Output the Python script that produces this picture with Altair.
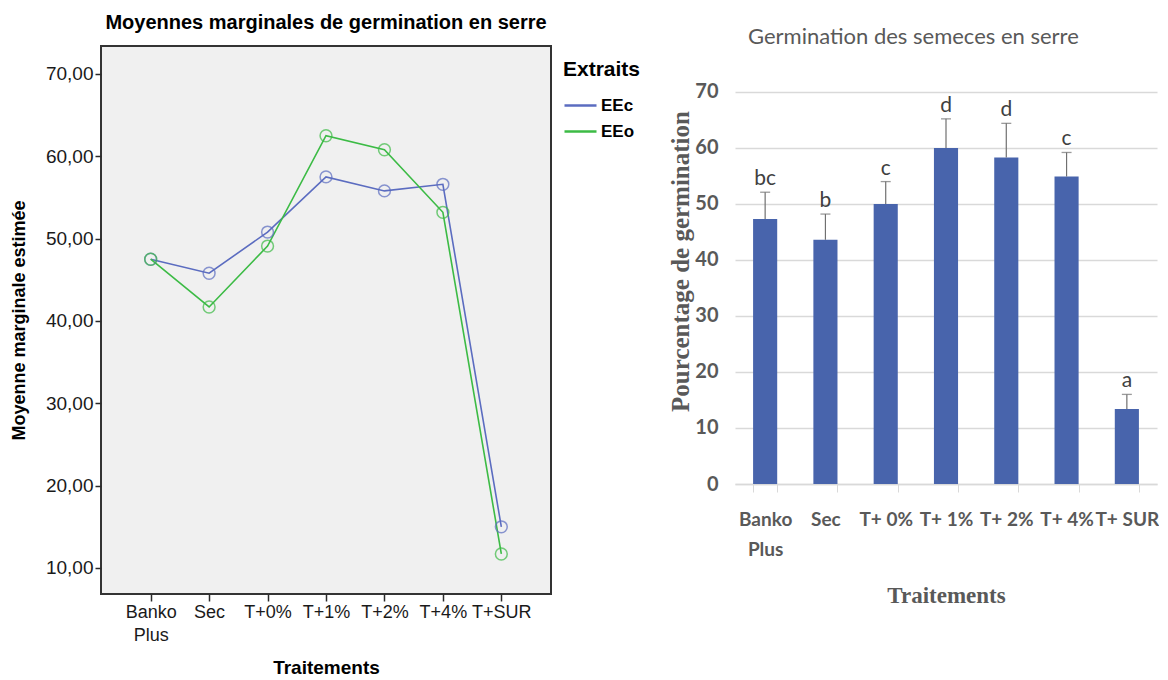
import altair as alt
import pandas as pd

# ---------------- data ----------------
categories = ["Banko Plus", "Sec", "T+0%", "T+1%", "T+2%", "T+4%", "T+SUR"]
eec_values = [47.5, 45.8, 50.8, 57.5, 55.8, 56.6, 15.0]
eeo_values = [47.5, 41.7, 49.1, 62.5, 60.8, 53.2, 11.7]
extraits = ["EEc", "EEo"]
extrait_colors = ["#5b6cc0", "#3cbb45"]
left_y_ticks = [10, 20, 30, 40, 50, 60, 70]

bar_categories = ["Banko Plus", "Sec", "T+ 0%", "T+ 1%", "T+ 2%", "T+ 4%", "T+ SUR"]
germination = [47.3, 43.6, 50.0, 60.0, 58.3, 54.9, 13.4]
error_top = [52.1, 48.2, 54.0, 65.2, 64.4, 59.2, 16.0]
letters = ["bc", "b", "c", "d", "d", "c", "a"]
right_y_ticks = [0, 10, 20, 30, 40, 50, 60, 70]

SANS = "Liberation Sans"
SERIF = "Liberation Serif"
CAL = "Lato"
GREY = "#595959"

split_label = "datum.label == 'Banko Plus' ? ['Banko', 'Plus'] : datum.label"

# ---------------- left chart ----------------
left_df = pd.DataFrame({
    "Traitement": categories + categories,
    "Extrait": [extraits[0]] * len(categories) + [extraits[1]] * len(categories),
    "Valeur": eec_values + eeo_values,
})

x_left = alt.X(
    "Traitement:N", sort=categories,
    scale=alt.Scale(type="point", padding=0.85),
    axis=alt.Axis(
        title="Traitements", labelAngle=0, labelExpr=split_label,
        labelFont=SANS, labelFontSize=18, labelColor="#1a1a1a",
        labelLineHeight=23, labelPadding=2,
        tickColor="#2a2a2a", tickSize=7, tickWidth=1.5, domain=False,
        titleFont=SANS, titleFontSize=19, titleFontWeight="bold",
        titleColor="#000000", titlePadding=14,
    ),
)
y_left = alt.Y(
    "Valeur:Q",
    scale=alt.Scale(domain=[6.84, 73.4], nice=False, zero=False),
    axis=alt.Axis(
        values=left_y_ticks, format=".2f",
        labelExpr="replace(datum.label, '.', ',')",
        title="Moyenne marginale estimée", grid=False, domain=False,
        tickColor="#2a2a2a", tickSize=6, tickWidth=1.5, labelPadding=2,
        labelFont=SANS, labelFontSize=19, labelColor="#1a1a1a",
        titleFont=SANS, titleFontSize=18, titleFontWeight="bold",
        titleColor="#000000", titlePadding=17,
    ),
)

lines = alt.Chart(left_df).mark_line(strokeWidth=1.6).encode(
    x=x_left, y=y_left,
    color=alt.Color(
        "Extrait:N",
        scale=alt.Scale(domain=extraits, range=extrait_colors),
        legend=alt.Legend(
            title="Extraits", orient="none", legendX=462, legendY=13,
            symbolType="stroke", symbolSize=1024, symbolStrokeWidth=2.5,
            titleFont=SANS, titleFontSize=21, titleFontWeight="bold",
            titleColor="#000000", labelFont=SANS, labelFontSize=17,
            labelFontWeight="bold", labelColor="#000000",
            rowPadding=0, titlePadding=8, labelOffset=3, padding=0,
        ),
    ),
)
points = alt.Chart(left_df).mark_point(
    shape="circle", filled=False, size=140, strokeWidth=1.5
).encode(
    x=x_left, y=y_left,
    stroke=alt.Stroke(
        "Extrait:N",
        scale=alt.Scale(domain=extraits, range=extrait_colors),
        legend=None,
    ),
)

left = alt.layer(lines, points).properties(
    width=450, height=548,
    title=alt.TitleParams(
        text="Moyennes marginales de germination en serre",
        font=SANS, fontSize=20, fontWeight="bold", color="#000000",
        anchor="middle", offset=13,
    ),
    view=alt.ViewBackground(fill="#f0f0f0", stroke="#333333", strokeWidth=2),
)

# ---------------- right chart ----------------
right_df = pd.DataFrame({
    "Traitement": bar_categories,
    "Germination": germination,
    "Erreur": error_top,
    "Lettre": letters,
})

x_right = alt.X(
    "Traitement:N", sort=bar_categories,
    scale=alt.Scale(type="band", paddingInner=0.6, paddingOuter=0.3),
    axis=alt.Axis(
        title="Traitements", labelAngle=0, labelExpr=split_label,
        labelFont=CAL, labelFontSize=19, labelFontWeight="bold",
        labelColor=GREY, labelLineHeight=30, labelPadding=18,
        tickBand="extent", tickColor="#d9d9d9", tickSize=8,
        domainColor="#d9d9d9", domainWidth=1.5,
        titleFont=SERIF, titleFontSize=23, titleFontWeight="bold",
        titleColor=GREY, titlePadding=25,
    ),
)
y_right = alt.Y(
    "Germination:Q",
    scale=alt.Scale(domain=[0, 78.21], nice=False),
    axis=alt.Axis(
        values=right_y_ticks, title="Pourcentage de germination",
        grid=True, gridColor="#d9d9d9", gridWidth=1.3,
        domain=False, ticks=False, labelPadding=17,
        labelFont=CAL, labelFontSize=20, labelFontWeight="bold",
        labelColor=GREY,
        titleFont=SERIF, titleFontSize=25, titleFontWeight="bold",
        titleColor=GREY, titleX=-42, titleY=215, titleBaseline="bottom",
    ),
)

bars = alt.Chart(right_df).mark_bar(color="#4864ac").encode(x=x_right, y=y_right)
err = alt.Chart(right_df).mark_rule(color="#707070", strokeWidth=1.2).encode(
    x=x_right, y="Germination:Q", y2="Erreur:Q"
)
caps = alt.Chart(right_df).mark_tick(color="#707070", thickness=1.3, size=10).encode(
    x=x_right, y="Erreur:Q"
)
labels = alt.Chart(right_df).mark_text(
    font=CAL, fontSize=21, color="#404040", baseline="alphabetic", dy=-7
).encode(x=x_right, y="Erreur:Q", text="Lettre:N")

right = alt.layer(bars, err, caps, labels).properties(
    width=422, height=438,
    title=alt.TitleParams(
        text="Germination des semeces en serre",
        font=CAL, fontSize=22, fontWeight="normal", color=GREY,
        anchor="middle", frame="bounds", offset=-3,
    ),
)

chart = alt.hconcat(left, right, spacing=116).properties(
    padding={"left": 1, "top": 4, "right": 0, "bottom": 0}
).configure_view(stroke=None)

chart.save("out.html", embed_options={"renderer": "svg", "actions": False})
